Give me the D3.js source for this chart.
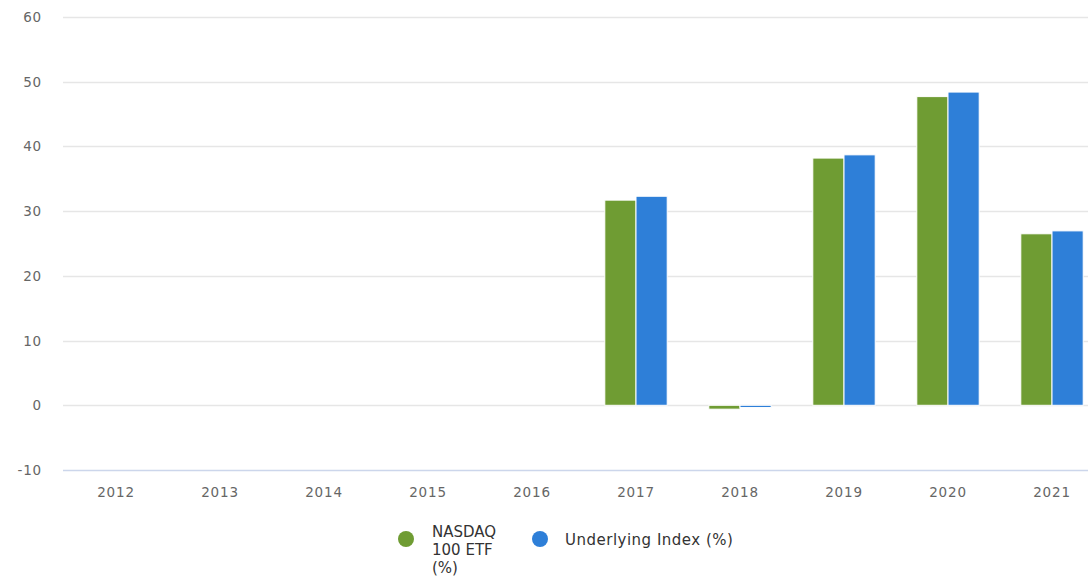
<!DOCTYPE html>
<html><head><meta charset="utf-8">
<script src="https://cdn.jsdelivr.net/npm/d3@7"></script>
<style>body{margin:0;background:#fff;} svg{display:block;font-family:"DejaVu Sans",sans-serif;}</style>
</head><body>
<svg id="c" width="1088" height="577"></svg>
<script>
const years = ["2012","2013","2014","2015","2016","2017","2018","2019","2020","2021"];
const etfValues = [null,null,null,null,null,31.7,-0.6,38.2,47.7,26.5];
const indexValues = [null,null,null,null,null,32.3,-0.35,38.7,48.4,26.95];
const seriesNames = ["NASDAQ 100 ETF (%)","Underlying Index (%)"];
const seriesColors = ["#6f9c33","#2e7fd8"];
const yTicks = [-10,0,10,20,30,40,50,60];

const svg = d3.select("#c");
const x = d3.scaleBand().domain(years).range([64,1104]).paddingInner(0.4).paddingOuter(0.2);
const y = d3.scaleLinear().domain([-10,60]).range([470,17]);
const xs = d3.scaleBand().domain([0,1]).range([0,x.bandwidth()]).padding(0);

// gridlines
svg.append("g").selectAll("line").data(yTicks).join("line")
  .attr("x1",63).attr("x2",1088).attr("y1",d=>Math.round(y(d))+0.5).attr("y2",d=>Math.round(y(d))+0.5)
  .attr("stroke",d=>d===-10?"#ccd6eb":"#e6e6e6").attr("stroke-width",1.5);

// y labels
svg.append("g").selectAll("text").data(yTicks).join("text")
  .attr("x",42).attr("y",d=>y(d)+5).attr("text-anchor","end")
  .attr("font-size",13.5).attr("letter-spacing",0.8).attr("fill","#666").text(d=>d);

// x labels
svg.append("g").selectAll("text").data(years).join("text")
  .attr("x",d=>x(d)+x.bandwidth()/2).attr("y",497).attr("text-anchor","middle")
  .attr("font-size",13.5).attr("letter-spacing",0.8).attr("fill","#666").text(d=>d);

// bars
const series = [etfValues, indexValues];
series.forEach((vals,si)=>{
  svg.append("g").selectAll("rect").data(years.map((yr,i)=>({yr,v:vals[i]})).filter(d=>d.v!==null))
    .join("rect")
    .attr("x",d=>x(d.yr)+xs(si))
    .attr("width",xs.bandwidth())
    .attr("y",d=>y(Math.max(0,d.v)))
    .attr("height",d=>Math.abs(y(d.v)-y(0)))
    .attr("fill",seriesColors[si]).attr("stroke","#fff").attr("stroke-width",1);
});

// legend
const lg = svg.append("g");
lg.append("circle").attr("cx",406).attr("cy",539).attr("r",8).attr("fill",seriesColors[0]);
const t1 = lg.append("text").attr("x",432).attr("y",537).attr("font-size",15).attr("fill","#333");
["NASDAQ","100 ETF","(%)"].forEach((s,i)=>t1.append("tspan").attr("x",432).attr("dy",i?18:0).text(s));
lg.append("circle").attr("cx",540).attr("cy",539).attr("r",8).attr("fill",seriesColors[1]);
lg.append("text").attr("x",565).attr("y",545).attr("font-size",15).attr("letter-spacing",0.5).attr("fill","#333").text(seriesNames[1]);
</script>
</body></html>
